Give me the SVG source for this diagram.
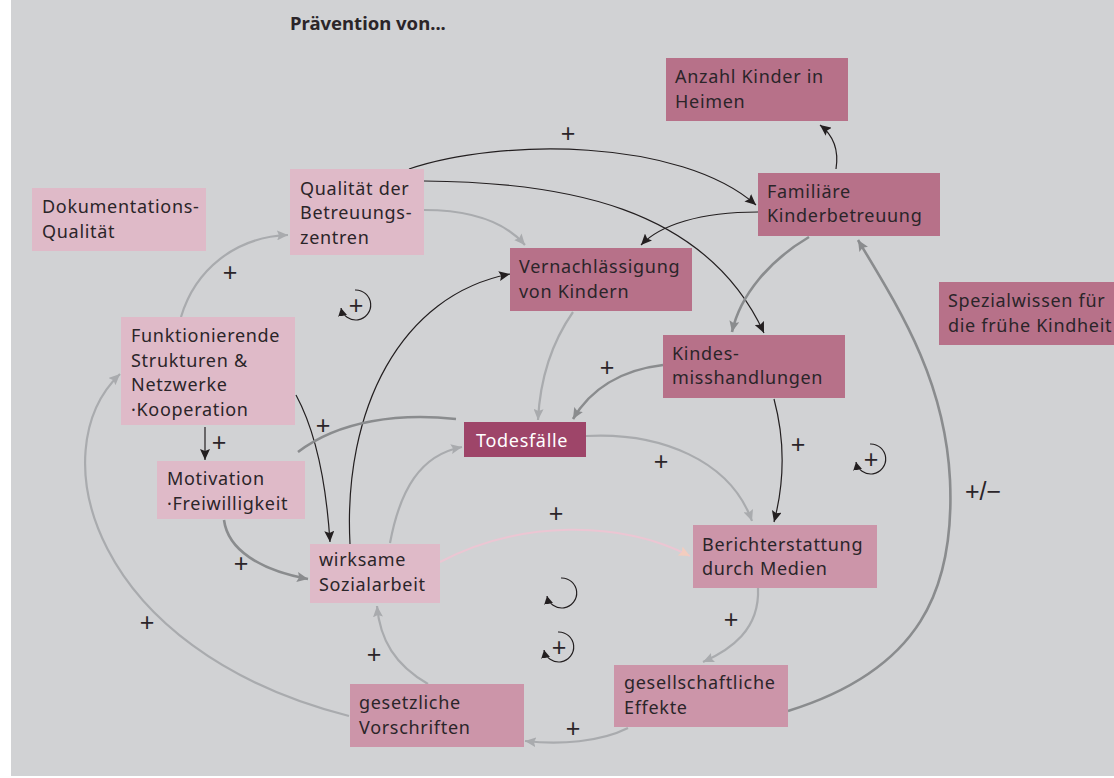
<svg xmlns="http://www.w3.org/2000/svg" width="1114" height="778" viewBox="0 0 1114 778">
<style>
.t{font-family:"Noto Sans","Open Sans",sans-serif;font-size:18px;letter-spacing:0.7px;fill:#2b2529}
.tw{font-family:"Noto Sans","Open Sans",sans-serif;font-size:18px;letter-spacing:0.7px;fill:#ffffff}
.pl{font-family:"Liberation Sans",Arial,sans-serif;font-size:25px;fill:#2b2529;text-anchor:middle}
.ttl{font-family:"Noto Sans","Open Sans",sans-serif;font-size:18.5px;font-weight:bold;fill:#2b2529}
.light{fill:#dfbac8}
.med{fill:#cc95a9}
.mauve{fill:#b77189}
.dark{fill:#9e4569}
.cb{fill:none;stroke:#231f20;stroke-width:1.2}
.cl{fill:none;stroke:#a9abae;stroke-width:2.2}
.cd{fill:none;stroke:#8a8c8e;stroke-width:2.6}
.cp{fill:none;stroke:#ecc6d3;stroke-width:2}
.loop{fill:none;stroke:#231f20;stroke-width:1.2}
</style>
<defs>
<marker id="aB" markerUnits="userSpaceOnUse" markerWidth="12" markerHeight="10" refX="11" refY="5" orient="auto"><path d="M0,0 L11,5 L0,10 L2,5 z" fill="#231f20"/></marker>
<marker id="aL" markerUnits="userSpaceOnUse" markerWidth="12" markerHeight="10" refX="11" refY="5" orient="auto"><path d="M0,0 L11,5 L0,10 L2,5 z" fill="#a9abae"/></marker>
<marker id="aD" markerUnits="userSpaceOnUse" markerWidth="12" markerHeight="10" refX="11" refY="5" orient="auto"><path d="M0,0 L11,5 L0,10 L2,5 z" fill="#8a8c8e"/></marker>
<marker id="aP" markerUnits="userSpaceOnUse" markerWidth="12" markerHeight="10" refX="11" refY="5" orient="auto"><path d="M0,0 L11,5 L0,10 L2,5 z" fill="#f3cdbf"/></marker>
<marker id="aS" markerUnits="userSpaceOnUse" markerWidth="9" markerHeight="9" refX="8" refY="4.5" orient="auto"><path d="M0,0 L8,4.5 L0,9 z" fill="#231f20"/></marker>
</defs>
<rect x="0" y="0" width="1114" height="778" fill="#ffffff"/>
<rect x="11" y="0" width="1103" height="776" fill="#d1d2d4"/>
<text class="ttl" x="290" y="30">Prävention von...</text>

<g id="connectors">
<path class="cb" d="M409,169 C500,138 680,138 756,205" marker-end="url(#aB)"/>
<path class="cb" d="M424,181 C560,182 705,205 764,333" marker-end="url(#aB)"/>
<path class="cb" d="M758,212 C700,212 660,225 641,245" marker-end="url(#aB)"/>
<path class="cb" d="M836,169 C839,150 833,135 820,125" marker-end="url(#aB)"/>
<path class="cb" d="M296,395 C315,430 326,480 330,542" marker-end="url(#aB)"/>
<path class="cb" d="M350,544 C343,410 400,295 510,274" marker-end="url(#aB)"/>
<path class="cb" d="M774,399 C785,440 785,480 774,522" marker-end="url(#aB)"/>
<path class="cb" d="M205,427 L205,460" marker-end="url(#aB)"/>
<path class="cl" d="M181,317 C195,270 235,237 288,235" marker-end="url(#aL)"/>
<path class="cl" d="M424,210 C470,210 505,222 525,245" marker-end="url(#aL)"/>
<path class="cl" d="M573,312 C550,345 540,380 538,420" marker-end="url(#aL)"/>
<path class="cd" d="M663,365 C620,370 590,390 573,419" marker-end="url(#aD)"/>
<path class="cd" d="M809,237 C770,260 740,295 732,332" marker-end="url(#aD)"/>
<path class="cd" d="M298,452 C340,420 400,413 456,419"/>
<path class="cd" d="M224,520 C228,550 260,570 308,579" marker-end="url(#aD)"/>
<path class="cl" d="M390,543 C400,490 420,455 462,447" marker-end="url(#aL)"/>
<path class="cp" d="M440,562 C520,520 620,520 690,556" marker-end="url(#aP)"/>
<path class="cl" d="M586,436 C660,432 730,460 752,521" marker-end="url(#aL)"/>
<path class="cl" d="M758,588 C760,630 730,650 703,662" marker-end="url(#aL)"/>
<path class="cl" d="M628,728 C600,742 560,745 525,741" marker-end="url(#aL)"/>
<path class="cl" d="M428,684 C395,665 380,640 377,606" marker-end="url(#aL)"/>
<path class="cl" d="M349,716 C90,650 40,450 120,374" marker-end="url(#aL)"/>
<path class="cd" d="M788,711 C920,670 955,590 950,480 C945,380 900,310 858,240" marker-end="url(#aD)"/>
</g>

<g id="loops">
<path class="loop" d="M355,290 A15,15 0 1 1 341,308" marker-end="url(#aS)"/>
<text class="pl" x="356" y="314">+</text>
<path class="loop" d="M870,444 A15,15 0 1 1 856,462" marker-end="url(#aS)"/>
<text class="pl" x="871" y="468">+</text>
<path class="loop" d="M561,578 A15,15 0 1 1 547,596" marker-end="url(#aS)"/>
<path class="loop" d="M558,632 A15,15 0 1 1 544,650" marker-end="url(#aS)"/>
<text class="pl" x="559" y="656">+</text>
</g>

<g id="labels">
<text class="pl" x="568" y="142">+</text>
<text class="pl" x="230" y="281">+</text>
<text class="pl" x="219" y="451">+</text>
<text class="pl" x="323" y="434">+</text>
<text class="pl" x="607" y="376">+</text>
<text class="pl" x="798" y="453">+</text>
<text class="pl" x="661" y="470">+</text>
<text class="pl" x="556" y="522">+</text>
<text class="pl" x="241" y="572">+</text>
<text class="pl" x="147" y="631">+</text>
<text class="pl" x="374" y="663">+</text>
<text class="pl" x="731" y="628">+</text>
<text class="pl" x="573" y="737">+</text>
<text class="pl" x="983" y="500">+/−</text>
</g>

<g id="n-doku"><rect class="light" x="32" y="188" width="174" height="63"/><text class="t" x="42" y="213">Dokumentations-<tspan x="42" y="237.5">Qualität</tspan></text></g>
<g id="n-qual"><rect class="light" x="290" y="169" width="134" height="86"/><text class="t" x="300" y="194.5">Qualität der<tspan x="300" y="219">Betreuungs-</tspan><tspan x="300" y="243.5">zentren</tspan></text></g>
<g id="n-anzahl"><rect class="mauve" x="666" y="58" width="182" height="63"/><text class="t" x="675" y="83">Anzahl Kinder in<tspan x="675" y="107.5">Heimen</tspan></text></g>
<g id="n-fam"><rect class="mauve" x="758" y="173" width="182" height="63"/><text class="t" x="767" y="197.5">Familiäre<tspan x="767" y="222">Kinderbetreuung</tspan></text></g>
<g id="n-vern"><rect class="mauve" x="510" y="248" width="182" height="63"/><text class="t" x="519" y="273">Vernachlässigung<tspan x="519" y="297.5">von Kindern</tspan></text></g>
<g id="n-kind"><rect class="mauve" x="663" y="335" width="182" height="63"/><text class="t" x="672" y="359.5">Kindes-<tspan x="672" y="384">misshandlungen</tspan></text></g>
<g id="n-spez"><rect class="mauve" x="939" y="282" width="180" height="63"/><text class="t" x="948" y="307">Spezialwissen für<tspan x="948" y="331.5">die frühe Kindheit</tspan></text></g>
<g id="n-funk"><rect class="light" x="121" y="317" width="174" height="108"/><text class="t" x="131" y="342">Funktionierende<tspan x="131" y="366.5">Strukturen &amp;</tspan><tspan x="131" y="391">Netzwerke</tspan><tspan x="131" y="415.5">·Kooperation</tspan></text></g>
<g id="n-mot"><rect class="light" x="157" y="461" width="148" height="58"/><text class="t" x="167" y="485">Motivation<tspan x="167" y="509.5">·Freiwilligkeit</tspan></text></g>
<g id="n-tod"><rect class="dark" x="464" y="422" width="122" height="35"/><text class="tw" x="476" y="447">Todesfälle</text></g>
<g id="n-wirk"><rect class="light" x="310" y="544" width="130" height="59"/><text class="t" x="319" y="566">wirksame<tspan x="319" y="590.5">Sozialarbeit</tspan></text></g>
<g id="n-ber"><rect class="med" x="693" y="525" width="184" height="63"/><text class="t" x="702" y="550.5">Berichterstattung<tspan x="702" y="575">durch Medien</tspan></text></g>
<g id="n-gesell"><rect class="med" x="614" y="665" width="174" height="62"/><text class="t" x="624" y="689">gesellschaftliche<tspan x="624" y="713.5">Effekte</tspan></text></g>
<g id="n-gesetz"><rect class="med" x="350" y="684" width="174" height="63"/><text class="t" x="359" y="709">gesetzliche<tspan x="359" y="733.5">Vorschriften</tspan></text></g>
</svg>
